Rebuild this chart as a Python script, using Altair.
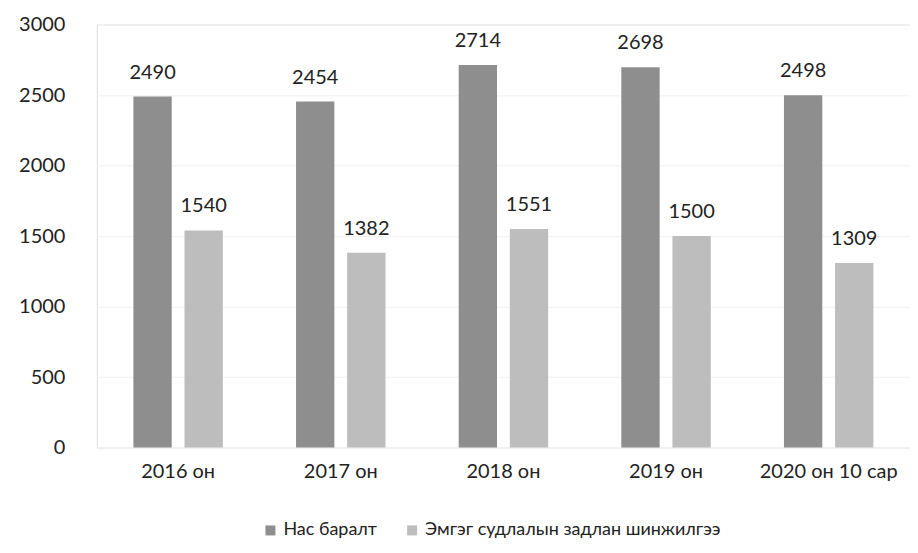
import altair as alt
import pandas as pd

years = ["2016 он", "2017 он", "2018 он", "2019 он", "2020 он 10 сар"]
series = ["Нас баралт", "Эмгэг судлалын задлан шинжилгээ"]
deaths = [2490, 2454, 2714, 2698, 2498]
autopsy = [1540, 1382, 1551, 1500, 1309]
colors = ["#8e8e8e", "#bdbdbd"]

rows = []
for i, y in enumerate(years):
    rows.append({"year": y, "series": series[0], "value": deaths[i]})
    rows.append({"year": y, "series": series[1], "value": autopsy[i]})
df = pd.DataFrame(rows)

FONT = "Lato"

x = alt.X("year:N", sort=years, title=None,
          scale=alt.Scale(paddingInner=0.45, paddingOuter=0.225),
          axis=alt.Axis(labelAngle=0, labelFontSize=20, labelColor="#222",
                        labelPadding=14, ticks=False, domain=False, labelFont=FONT))
xo = alt.XOffset("series:N", sort=series, scale=alt.Scale(paddingInner=0.25))
y = alt.Y("value:Q", title=None,
          scale=alt.Scale(domain=[0, 3000]),
          axis=alt.Axis(values=[0, 500, 1000, 1500, 2000, 2500, 3000], format="d",
                        labelFontSize=20, labelColor="#222", labelPadding=32,
                        ticks=False, domain=False, grid=True, gridColor="#f2f2f2",
                        labelFont=FONT))

bars = alt.Chart(df).mark_bar().encode(
    x=x, xOffset=xo, y=y,
    color=alt.Color("series:N", sort=series,
                    scale=alt.Scale(domain=series, range=colors),
                    legend=alt.Legend(title=None, orient="none", direction="horizontal",
                                      legendX=165, legendY=498,
                                      symbolType="square", symbolSize=100,
                                      labelFontSize=18, labelColor="#222", labelLimit=0,
                                      labelFont=FONT, columnPadding=26,
                                      symbolStrokeWidth=0)),
)

labels = alt.Chart(df).mark_text(dy=-24, fontSize=20, color="#222", font=FONT).encode(
    x=x, xOffset=xo, y=y, text=alt.Text("value:Q", format="d")
)

chart = (bars + labels).properties(
    width=815, height=424,
    padding={"left": 10, "top": 6, "right": 0, "bottom": 0},
).configure_view(stroke=None).configure(background="white")

chart.save("out.html", embed_options={"renderer": "svg", "actions": False})
